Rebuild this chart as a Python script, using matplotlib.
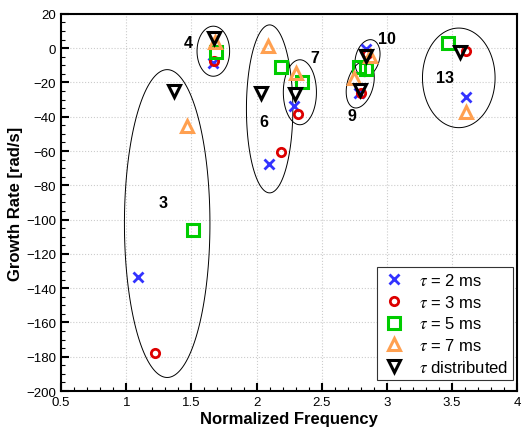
import numpy as np
import matplotlib
matplotlib.use('Agg')
import matplotlib.pyplot as plt
from matplotlib.ticker import MultipleLocator, FormatStrFormatter

plt.rcParams['font.family'] = ['Liberation Sans', 'DejaVu Sans']
plt.rcParams['mathtext.fontset'] = 'stix'

# group order: 3, 4, 6, 7, 9, 10, 13
groups = ['3', '4', '6', '7', '9', '10', '13']

tau2_x = [1.09, 1.668, 2.095, 2.29, 2.782, 2.838, 3.61]
tau2_y = [-133.5, -8.6, -67.5, -33.5, -26.2, -0.4, -28.6]

tau3_x = [1.218, 1.675, 2.185, 2.32, 2.80, 2.845, 3.61]
tau3_y = [-178.0, -7.2, -60.3, -38.3, -26.0, -3.3, -1.8]

tau5_x = [1.513, 1.689, 2.19, 2.35, 2.788, 2.838, 3.47]
tau5_y = [-106.3, -2.0, -10.7, -19.8, -10.7, -12.1, 2.9]

tau7_x = [1.464, 1.68, 2.088, 2.304, 2.75, 2.87, 3.61]
tau7_y = [-45.1, 3.5, 1.5, -14.4, -17.5, -4.7, -37.3]

dist_x = [1.37, 1.676, 2.03, 2.294, 2.795, 2.84, 3.559]
dist_y = [-24.7, 5.8, -26.0, -26.6, -24.1, -4.3, -2.4]

# group label positions
label_x = [1.28, 1.477, 2.057, 2.447, 2.73, 3.0, 3.449]
label_y = [-90.2, 3.5, -42.8, -5.3, -39.3, 5.8, -16.9]

# ellipses: center x, center y, width (x units), height (y units), tilt (deg)
ell_cx = [1.314, 1.668, 2.10, 2.332, 2.795, 2.851, 3.551]
ell_cy = [-102.3, -1.75, -35.4, -25.7, -21.2, -5.8, -17.3]
ell_w = [0.656, 0.25, 0.356, 0.254, 0.20, 0.183, 0.557]
ell_h = [179.6, 29.2, 98.0, 37.9, 28.0, 22.0, 58.1]
ell_a = [0, 0, 0, 0, -15, -15, 0]

fig = plt.figure(figsize=(5.22, 4.39), dpi=100)
ax = fig.add_axes([0.117, 0.107, 0.874, 0.859])
ax.set_xlim(0.5, 4)
ax.set_ylim(-200, 20)

# screen aspect: pixels per y unit relative to pixels per x unit
ax_w = 0.874 * 522
ax_h = 0.859 * 439
r = (ax_h / 220.0) / (ax_w / 3.5)

t = np.linspace(0, 2 * np.pi, 200)
for cx, cy, w, h, a in zip(ell_cx, ell_cy, ell_w, ell_h, ell_a):
    u = w / 2 * np.cos(t)
    v = h / 2 * r * np.sin(t)
    th = np.radians(a)
    xs = cx + u * np.cos(th) - v * np.sin(th)
    ys = cy + (u * np.sin(th) + v * np.cos(th)) / r
    ax.fill(xs, ys, fill=False, edgecolor='black', lw=0.7, zorder=2)

for lx, ly, g in zip(label_x, label_y, groups):
    ax.text(lx, ly, g, fontsize=11.5, fontweight='bold', ha='center', va='center', zorder=6)

ax.plot(tau2_x, tau2_y, ls='none', marker='x', color='#3333ff', ms=6.5, mew=2,
        label=r'$\tau$ = 2 ms', zorder=3)
ax.plot(tau3_x, tau3_y, ls='none', marker='o', color='#dd0000', mfc='none', ms=6, mew=2,
        label=r'$\tau$ = 3 ms', zorder=3)
ax.plot(tau5_x, tau5_y, ls='none', marker='s', color='#00cc00', mfc='none', ms=8.5, mew=2.2,
        label=r'$\tau$ = 5 ms', zorder=4)
ax.plot(tau7_x, tau7_y, ls='none', marker='^', color='#ffa050', mfc='none', ms=9, mew=2.2,
        label=r'$\tau$ = 7 ms', zorder=4)
ax.plot(dist_x, dist_y, ls='none', marker='v', color='black', mfc='none', ms=9, mew=2.2,
        label=r'$\tau$ distributed', zorder=5)

ax.xaxis.set_major_locator(MultipleLocator(0.5))
ax.xaxis.set_minor_locator(MultipleLocator(0.1))
ax.xaxis.set_major_formatter(FormatStrFormatter('%g'))
ax.yaxis.set_major_locator(MultipleLocator(20))
ax.yaxis.set_minor_locator(MultipleLocator(5))
ax.tick_params(which='both', direction='in', top=False, right=False, labelsize=9.5)
ax.tick_params(which='major', length=6, width=1.5)
ax.tick_params(which='minor', length=3, width=0.8)
ax.grid(True, which='major', color='#cccccc', ls=':', lw=0.8)
for s in ax.spines.values():
    s.set_linewidth(1.5)

ax.set_xlabel('Normalized Frequency', fontsize=12, fontweight='bold', labelpad=2)
ax.set_ylabel('Growth Rate [rad/s]', fontsize=12, fontweight='bold', labelpad=2)

leg = ax.legend(loc='lower right', bbox_to_anchor=(0.99, 0.029), fontsize=12,
                fancybox=False, framealpha=1, edgecolor='#333333', handlelength=1.4,
                handletextpad=0.8, labelspacing=0.35, borderpad=0.3, borderaxespad=0)
leg.get_frame().set_linewidth(0.8)
leg.set_zorder(10)

fig.savefig('out.png', dpi=100)
